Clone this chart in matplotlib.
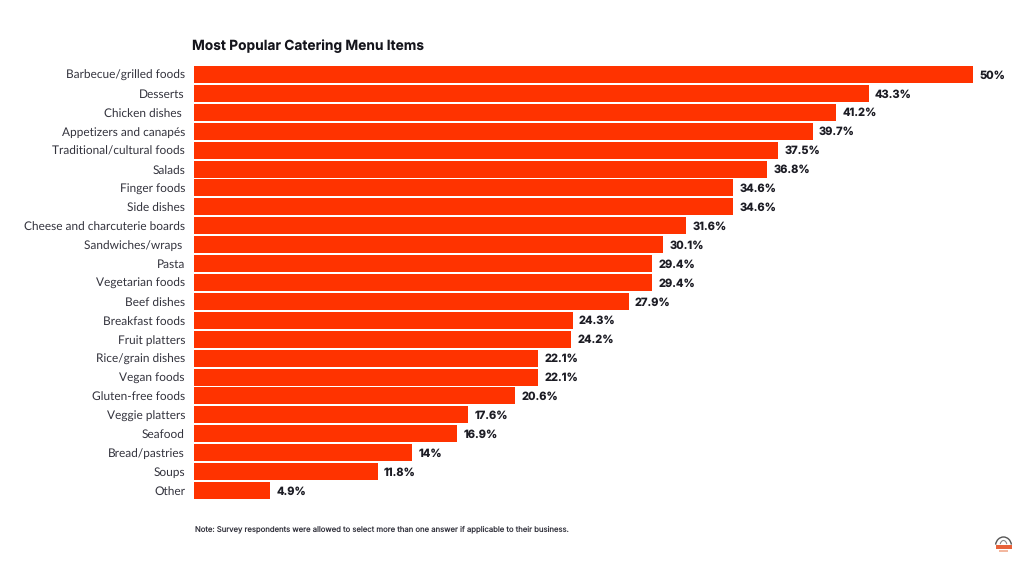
import matplotlib
matplotlib.use("Agg")
import matplotlib.pyplot as plt
from matplotlib.patches import Arc, Rectangle

plt.rcParams['font.family'] = ['Inter', 'DejaVu Sans']
plt.rcParams['text.hinting'] = 'no_hinting'

W, H = 1024, 565
BAR_COLOR = '#ff3300'

items = ['Barbecue/grilled foods', 'Desserts', 'Chicken dishes ', 'Appetizers and canapés',
         'Traditional/cultural foods', 'Salads', 'Finger foods', 'Side dishes',
         'Cheese and charcuterie boards', 'Sandwiches/wraps ', 'Pasta', 'Vegetarian foods',
         'Beef dishes', 'Breakfast foods', 'Fruit platters', 'Rice/grain dishes', 'Vegan foods',
         'Gluten-free foods', 'Veggie platters', 'Seafood', 'Bread/pastries', 'Soups', 'Other']
values = [50, 43.3, 41.2, 39.7, 37.5, 36.8, 34.6, 34.6, 31.6, 30.1, 29.4, 29.4, 27.9,
          24.3, 24.2, 22.1, 22.1, 20.6, 17.6, 16.9, 14, 11.8, 4.9]
value_labels = ['50%', '43.3%', '41.2%', '39.7%', '37.5%', '36.8%', '34.6%', '34.6%', '31.6%',
                '30.1%', '29.4%', '29.4%', '27.9%', '24.3%', '24.2%', '22.1%', '22.1%', '20.6%',
                '17.6%', '16.9%', '14%', '11.8%', '4.9%']

fig = plt.figure(figsize=(W / 100, H / 100), dpi=100, facecolor='white')

# axes box in pixels: bars start at x=194, the 50% bar ends at x=973
left, right, top, bottom = 194, 973, 65, 500
ax = fig.add_axes([left / W, 1 - bottom / H, (right - left) / W, (bottom - top) / H])
ax.set_xlim(0, 50)
ax.set_ylim(len(items) - 0.5, -0.5)
ax.barh(range(len(items)), values, height=0.9, color=BAR_COLOR)
ax.set_yticks(range(len(items)))
ax.set_yticklabels(items, fontsize=8.6, color='#33333d', family=['Lato', 'DejaVu Sans'])
ax.tick_params(axis='y', length=0, pad=6.5)
ax.set_xticks([])
for s in ax.spines.values():
    s.set_visible(False)

for i, (v, lab) in enumerate(zip(values, value_labels)):
    ax.annotate(lab, (v, i), xytext=(4.5, -0.7), textcoords='offset points', va='center', ha='left',
                fontsize=8.0, fontweight='bold', color='#1c1c24', annotation_clip=False)

fig.text(192 / W, 1 - 46 / H, 'Most Popular Catering Menu Items', fontsize=9.9, fontweight='bold',
         color='#15151c', va='center', ha='left')
fig.text(195 / W, 1 - 529 / H,
         'Note: Survey respondents were allowed to select more than one answer if applicable to their business.',
         fontsize=5.55, color='#33333d', va='center', ha='left')

# small logo, bottom right corner
logo = fig.add_axes([993 / W, 1 - 553 / H, 21 / W, 17 / H])
logo.set_xlim(0, 21)
logo.set_ylim(0, 17)
logo.axis('off')
logo.add_patch(Arc((10.5, 7), 16, 18, theta1=10, theta2=170, color='#555555', lw=1))
logo.add_patch(Arc((10.5, 7), 7, 11, theta1=30, theta2=150, color='#888888', lw=0.8))
logo.add_patch(Rectangle((2.5, 4), 16, 4, color='#e8623a', lw=0))
logo.add_patch(Rectangle((6, 1.5), 9, 1.2, color='#f3b8a0', lw=0))

fig.savefig('out.png', dpi=100)
